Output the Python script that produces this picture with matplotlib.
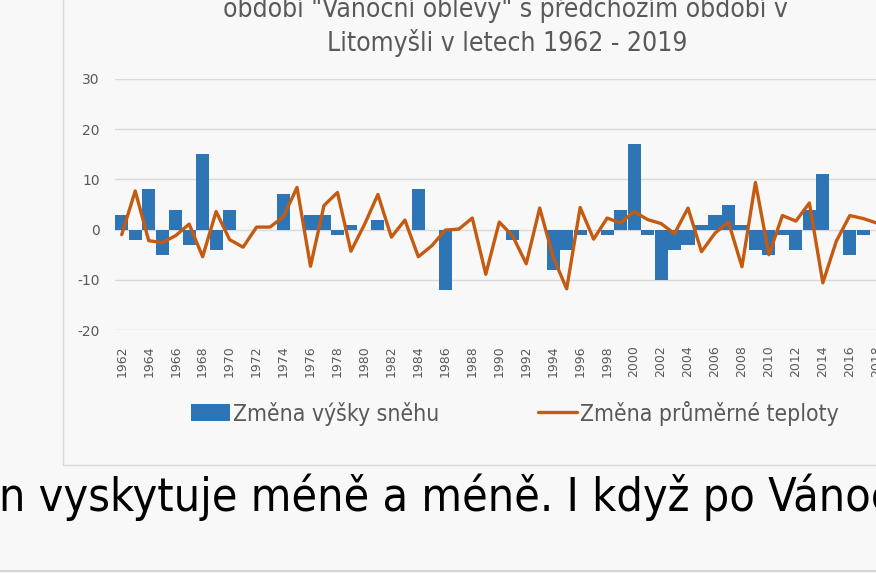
import matplotlib
matplotlib.use("Agg")
import matplotlib.pyplot as plt
from matplotlib.patches import Rectangle
from matplotlib.lines import Line2D

years = list(range(1962, 2020))
snow_change = [3, -2, 8, -5, 4, -3, 15, -4, 4, 0,
               0, 0, 7, 0, 3, 3, -1, 1, 0, 2,
               0, 0, 8, 0, -12, 0, 0, 0, 0, -2,
               0, 0, -8, -4, -1, 0, -1, 4, 17, -1,
               -10, -4, -3, 1, 3, 5, 1, -4, -5, -1,
               -4, 4, 11, 0, -5, -1, 0, 0]
temp_change = [-1.0, 7.7, -2.2, -2.6, -1.2, 1.1, -5.4, 3.6, -2.0, -3.5,
               0.5, 0.5, 2.6, 8.4, -7.3, 4.8, 7.4, -4.3, 1.0, 7.0,
               -1.5, 1.9, -5.4, -3.2, -0.1, 0.1, 2.3, -8.9, 1.5, -1.3,
               -6.8, 4.3, -5.5, -11.8, 4.4, -1.9, 2.3, 1.3, 3.6, 2.0,
               1.2, -0.8, 4.3, -4.4, -0.7, 1.5, -7.4, 9.4, -5.0, 2.8,
               1.7, 5.3, -10.6, -2.3, 2.8, 2.2, 1.3, 0.5]
y_ticks = [-20, -10, 0, 10, 20, 30]
title_line1 = 'období "Vánoční oblevy" s předchozím období v'
title_line2 = 'Litomyšli v letech 1962 - 2019'
legend_labels = ["Změna výšky sněhu", "Změna průměrné teploty"]
body_text = "n vyskytuje méně a méně. I když po Vánoc"

W, H = 876, 573
BG = "#f8f8f8"
GRAY = "#595959"
BLUE = "#2E75B6"
ORANGE = "#C55A11"

fig = plt.figure(figsize=(W / 100, H / 100), dpi=100, facecolor=BG)

def fx(px):
    return px / W

def fy(py):
    return 1 - py / H

# chart border
fig.patches.append(Rectangle((fx(63), fy(465)), fx(900) - fx(63), fy(-10) - fy(465),
                             transform=fig.transFigure, facecolor="none",
                             edgecolor="#d9d9d9", linewidth=1.0, zorder=0))
# bottom page line
fig.lines.append(Line2D([0, 1], [fy(571), fy(571)], transform=fig.transFigure,
                        color="#d4d4d4", linewidth=1.5))

ax = fig.add_axes([fx(115), fy(330), fx(897) - fx(115), fy(79) - fy(330)])
ax.set_facecolor(BG)
x = list(range(len(years)))
bars = ax.bar(x, snow_change, width=0.97, color=BLUE, zorder=2)
line, = ax.plot(x, temp_change, color=ORANGE, linewidth=2.4, zorder=3,
                solid_joinstyle="round", solid_capstyle="round")
ax.set_xlim(-0.5, len(years) - 0.5)
ax.set_ylim(-20, 30)
ax.set_yticks(y_ticks)
ax.set_yticklabels([str(v) for v in y_ticks], fontsize=10, color=GRAY)
ax.set_xticks(x[::2])
ax.set_xticklabels([str(y) for y in years[::2]], rotation=90, fontsize=9, color=GRAY)
ax.tick_params(axis="both", length=0)
ax.tick_params(axis="x", pad=11)
ax.tick_params(axis="y", pad=11)
ax.grid(axis="y", color="#d9d9d9", linewidth=1.0, zorder=0)
ax.set_axisbelow(True)
for s in ax.spines.values():
    s.set_visible(False)

cond = dict(family="DejaVu Sans", fontstretch="condensed")

fig.text(fx(505), fy(9), title_line1, ha="center", va="center", fontsize=19,
         color=GRAY, **cond)
fig.text(fx(507), fy(43), title_line2, ha="center", va="center", fontsize=19,
         color=GRAY, **cond)

leg = fig.legend([bars, line], legend_labels, loc="center",
                 bbox_to_anchor=(fx(515), fy(413)), ncol=2, frameon=False,
                 handlelength=1.7, handletextpad=0.15, columnspacing=4.3,
                 prop=dict(size=16.5, family="DejaVu Sans", stretch="condensed"))
for t in leg.get_texts():
    t.set_color(GRAY)

fig.text(fx(-1), fy(497), body_text, ha="left", va="center", fontsize=33.5,
         color="black", **cond)

fig.savefig("out.png", dpi=100, facecolor=BG)
